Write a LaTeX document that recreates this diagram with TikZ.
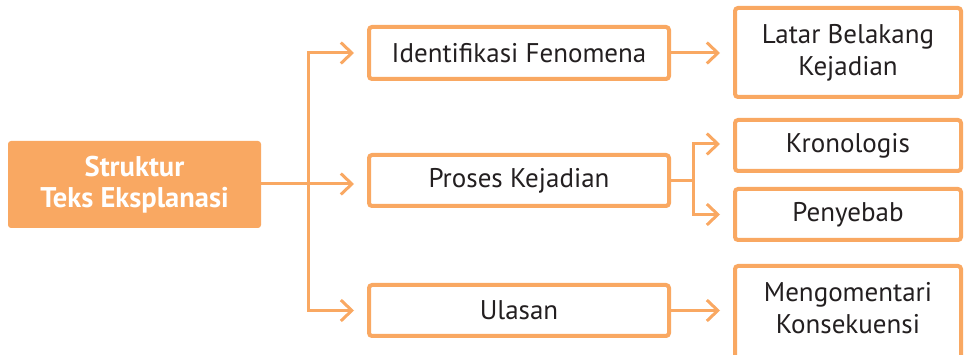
\documentclass[tikz,border=0pt]{standalone}
\usepackage{fontspec}
\setmainfont{PT Sans}
\usetikzlibrary{arrows.meta}
\definecolor{orn}{HTML}{F9A862}
\definecolor{txt}{HTML}{231F20}
\tikzset{
  box/.style={draw=orn, line width=4pt, rounded corners=3pt, fill=white, inner sep=0pt,
    text=txt, align=center, font=\fontsize{27}{32}\selectfont},
  lead/.style={fill=orn, rounded corners=3pt, inner sep=0pt, text=white, align=center,
    font=\fontsize{28.5}{31}\selectfont\bfseries},
  conn/.style={draw=orn, line width=3pt},
  arr/.style={conn, -{Straight Barb[length=11pt,width=21pt,line width=3pt]}, shorten >=13pt},
  plain/.style={text=txt, align=center, inner sep=0pt, font=\fontsize{27}{32}\selectfont}
}
\begin{document}
\begin{tikzpicture}[x=1pt,y=-1pt]
\useasboundingbox (0,0) rectangle (964,355);
\node[lead, minimum width=253pt, minimum height=87pt] (lead) at (134.5,184.5) {Struktur\\Teks Eksplanasi};
\node[box, minimum width=300pt, minimum height=52pt] (ident) at (519,53) {Identifikasi Fenomena};
\node[box, minimum width=300pt, minimum height=51pt] (proses) at (519,180.5) {Proses Kejadian};
\node[box, minimum width=300pt, minimum height=51pt] (ulasan) at (519,310.5) {Ulasan};
\node[box, minimum width=226pt, minimum height=89pt] (latar) at (848,52.5) {Latar Belakang\\Kejadian};
\node[box, minimum width=226pt, minimum height=51pt] (kron) at (848,145.5) {Kronologis};
\node[box, minimum width=226pt, minimum height=51pt] (peny) at (848,214.5) {Penyebab};
\node[box, minimum width=226pt, minimum height=96pt] (meng) at (848,314) {};
\node[plain] (mengt) at (848,308) {Mengomentari\\Konsekuensi};
\coordinate (trunk) at (308,184);
\coordinate (pj) at (693,180.5);
\draw[arr] (lead.east |- trunk) -- (trunk -| proses.west);
\draw[arr] (trunk) |- (ident.west);
\draw[arr] (trunk) |- (ulasan.west);
\draw[arr] (ident.east) -- (ident.east -| latar.west);
\draw[conn] (proses.east) -- (pj);
\draw[arr] (pj) |- ([yshift=1.5pt]kron.west);
\draw[arr] (pj) |- (peny.west);
\draw[arr] (ulasan.east) -- (ulasan.east -| meng.west);
\end{tikzpicture}
\end{document}
